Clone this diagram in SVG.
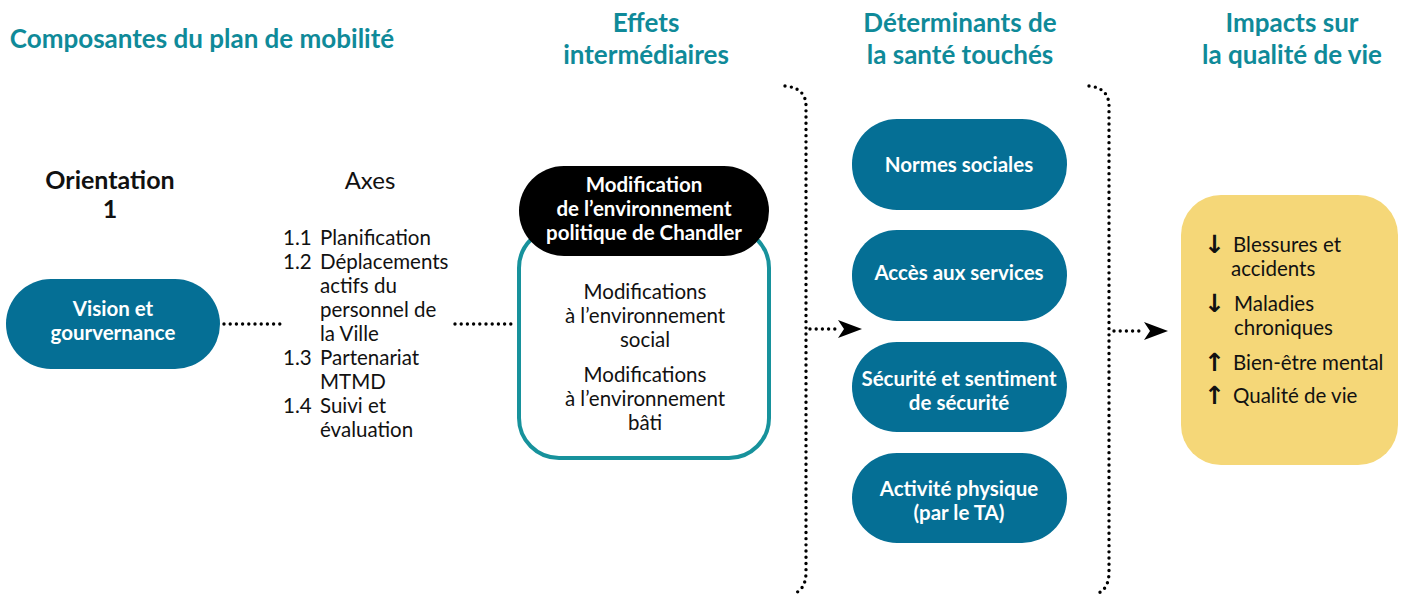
<svg xmlns="http://www.w3.org/2000/svg" width="1404" height="595" viewBox="0 0 1404 595">
<defs>
<style>
text{font-family:"Lato","Noto Sans","Liberation Sans",sans-serif;}
.h{fill:#0f8a99;font-weight:bold;font-size:26px;text-anchor:middle;}
.pill{fill:#056f95;}
.pt{fill:#fff;font-weight:bold;font-size:20.5px;text-anchor:middle;}
.bt{fill:#111;font-size:20.5px;}
.ar{fill:#111;font-size:25px;font-weight:bold;font-family:"DejaVu Sans",sans-serif;}
.c{text-anchor:middle;}
.dot{fill:none;stroke:#000;stroke-width:3.4;stroke-linecap:round;stroke-dasharray:0 6.2;}
</style>
<marker id="ah" viewBox="0 0 24 18" refX="24" refY="9" markerWidth="24" markerHeight="18" markerUnits="userSpaceOnUse" orient="auto">
<path d="M0,0 L24,9 L0,18 L6,9 Z" fill="#000"/>
</marker>
</defs>
<rect width="1404" height="595" fill="#fff"/>

<g id="headers">
<text class="h" x="202" y="48">Composantes du plan de mobilité</text>
<text class="h" x="646" y="32">Effets</text>
<text class="h" x="646" y="64">intermédiaires</text>
<text class="h" x="960" y="32">Déterminants de</text>
<text class="h" x="960" y="64">la santé touchés</text>
<text class="h" x="1292" y="32">Impacts sur</text>
<text class="h" x="1292" y="64">la qualité de vie</text>
</g>

<g id="orientation">
<text x="110" y="189" class="c" style="font-weight:bold;font-size:25px;fill:#111">Orientation</text>
<text x="110" y="218" class="c" style="font-weight:bold;font-size:25px;fill:#111">1</text>
</g>

<g id="axes">
<text x="370" y="189" class="c" style="font-size:24px;fill:#111">Axes</text>
<text class="bt" x="283" y="245">1.1</text><text class="bt" x="320" y="245">Planification</text>
<text class="bt" x="283" y="269">1.2</text><text class="bt" x="320" y="269">Déplacements</text>
<text class="bt" x="320" y="293">actifs du</text>
<text class="bt" x="320" y="317">personnel de</text>
<text class="bt" x="320" y="341">la Ville</text>
<text class="bt" x="283" y="365">1.3</text><text class="bt" x="320" y="365">Partenariat</text>
<text class="bt" x="320" y="389">MTMD</text>
<text class="bt" x="283" y="413">1.4</text><text class="bt" x="320" y="413">Suivi et</text>
<text class="bt" x="320" y="437">évaluation</text>
</g>

<g id="vision">
<rect class="pill" x="6" y="279" width="214" height="90" rx="45"/>
<text class="pt" x="113" y="316">Vision et</text>
<text class="pt" x="113" y="340">gourvernance</text>
</g>

<g id="effets">
<rect x="519" y="228" width="250" height="230" rx="40" fill="#fff" stroke="#17929c" stroke-width="4"/>
<text class="bt c" x="645" y="299">Modifications</text>
<text class="bt c" x="645" y="323">à l’environnement</text>
<text class="bt c" x="645" y="347">social</text>
<text class="bt c" x="645" y="382">Modifications</text>
<text class="bt c" x="645" y="406">à l’environnement</text>
<text class="bt c" x="645" y="430">bâti</text>
</g>

<g id="politique">
<rect x="519" y="166" width="250" height="90" rx="45" fill="#000"/>
<text class="pt" x="644" y="192">Modification</text>
<text class="pt" x="644" y="216">de l’environnement</text>
<text class="pt" x="644" y="240">politique de Chandler</text>
</g>

<g id="normes">
<rect class="pill" x="852" y="119" width="215" height="91" rx="45"/>
<text class="pt" x="959" y="172">Normes sociales</text>
</g>
<g id="acces">
<rect class="pill" x="852" y="230" width="215" height="91" rx="45"/>
<text class="pt" x="959" y="280">Accès aux services</text>
</g>
<g id="securite">
<rect class="pill" x="852" y="342" width="215" height="90" rx="45"/>
<text class="pt" x="959" y="386">Sécurité et sentiment</text>
<text class="pt" x="959" y="410">de sécurité</text>
</g>
<g id="activite">
<rect class="pill" x="852" y="453" width="215" height="90" rx="45"/>
<text class="pt" x="959" y="496">Activité physique</text>
<text class="pt" x="959" y="520">(par le TA)</text>
</g>

<g id="impacts">
<rect x="1181" y="195" width="217" height="270" rx="40" fill="#f5d778"/>
<text class="ar" x="1204" y="253">↓</text><text class="bt" x="1233" y="252">Blessures et</text>
<text class="bt" x="1231" y="276">accidents</text>
<text class="ar" x="1204" y="312">↓</text><text class="bt" x="1234" y="311">Maladies</text>
<text class="bt" x="1234" y="335">chroniques</text>
<text class="ar" x="1204" y="371">↑</text><text class="bt" x="1233" y="370">Bien-être mental</text>
<text class="ar" x="1204" y="404">↑</text><text class="bt" x="1233" y="403">Qualité de vie</text>
</g>

<g id="connectors">
<path class="dot" d="M224,324 H284"/>
<path class="dot" d="M455,324 H515"/>
<path class="dot" d="M785,86 Q806,88 806,106 V572 Q806,590 793,594"/>
<path class="dot" d="M1089,86 Q1109,88 1109,106 V572 Q1109,590 1096,594"/>
<path class="dot" d="M810,329 H838"/>
<path d="M836,329 H862" stroke="none" fill="none" marker-end="url(#ah)"/>
<path class="dot" d="M1114,331 H1144"/>
<path d="M1142,331 H1168" stroke="none" fill="none" marker-end="url(#ah)"/>
</g>
</svg>
